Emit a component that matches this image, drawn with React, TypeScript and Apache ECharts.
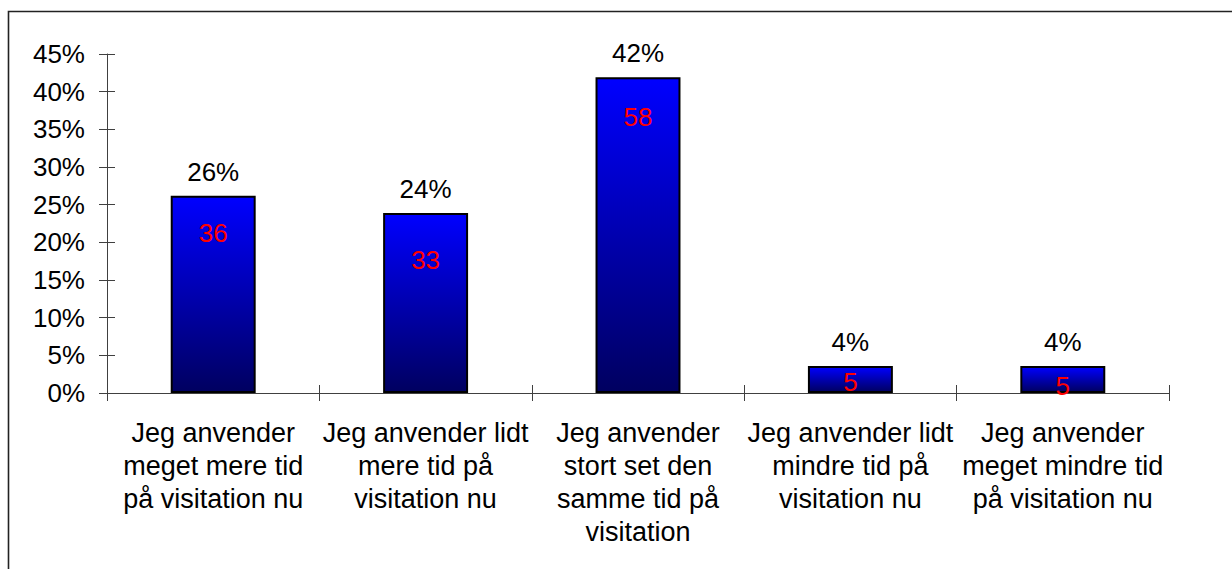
import React, { useEffect, useRef } from "react";
import * as echarts from "echarts";

const categories = [
  "Jeg anvender\nmeget mere tid\npå visitation nu",
  "Jeg anvender lidt\nmere tid på\nvisitation nu",
  "Jeg anvender\nstort set den\nsamme tid på\nvisitation",
  "Jeg anvender lidt\nmindre tid på\nvisitation nu",
  "Jeg anvender\nmeget mindre tid\npå visitation nu",
];
const percentShares = [26.2, 23.9, 41.9, 3.6, 3.6];
const respondentCounts = [36, 33, 58, 5, 5];
const yTicks = { min: 0, max: 45, interval: 5 };

const FONT = "'Liberation Sans', Arial, sans-serif";

export default function App() {
  const ref = useRef<HTMLDivElement>(null);
  useEffect(() => {
    if (!ref.current) return;
    const chart = echarts.init(ref.current, null, { renderer: "svg" });
    const axisColor = "#404040";
    const insideDistances = [24, 34, 27];
    const countLabels = respondentCounts.map((c, i) => {
      const small = percentShares[i] < 10;
      return {
        value: percentShares[i],
        label: small
          ? { position: "inside", offset: [0, i === 3 ? 3 : 7] }
          : { position: "insideTop", distance: insideDistances[i] },
      };
    });
    chart.setOption({
      animation: false,
      backgroundColor: "#ffffff",
      textStyle: { fontFamily: FONT },
      grid: { left: 107, right: 63, top: 54, bottom: 176 },
      graphic: [
        {
          type: "rect",
          shape: { x: 8.5, y: 11.5, width: 1300, height: 700 },
          style: { fill: "none", stroke: "#222", lineWidth: 1.6 },
          silent: true,
        },
      ],
      xAxis: [
        {
          type: "category",
          data: categories,
          axisLine: { lineStyle: { color: axisColor, width: 1 } },
          axisTick: { show: true, length: 8, lineStyle: { color: axisColor } },
          axisLabel: {
            interval: 0,
            color: "#000",
            fontSize: 27,
            fontFamily: FONT,
            lineHeight: 33,
            margin: 23,
            align: "center",
          },
        },
        {
          type: "category",
          data: categories,
          position: "bottom",
          axisLine: { show: false },
          axisTick: { show: true, inside: true, length: 8, lineStyle: { color: axisColor } },
          axisLabel: { show: false },
        },
      ],
      yAxis: [
        {
          type: "value",
          min: yTicks.min,
          max: yTicks.max,
          interval: yTicks.interval,
          axisLine: { show: true, lineStyle: { color: axisColor, width: 1 } },
          axisTick: { show: true, length: 8, lineStyle: { color: axisColor } },
          splitLine: { show: false },
          axisLabel: {
            color: "#000",
            fontSize: 26,
            fontFamily: FONT,
            margin: 22,
            formatter: (v: number) => v + "%",
          },
        },
        {
          type: "value",
          position: "left",
          min: yTicks.min,
          max: yTicks.max,
          interval: yTicks.interval,
          axisLine: { show: false },
          axisTick: { show: true, inside: true, length: 8, lineStyle: { color: axisColor } },
          splitLine: { show: false },
          axisLabel: { show: false },
        },
      ],
      series: [
        {
          type: "bar",
          data: percentShares,
          barWidth: "40%",
          itemStyle: {
            color: new echarts.graphic.LinearGradient(0, 0, 0, 1, [
              { offset: 0, color: "#0000ff" },
              { offset: 1, color: "#000060" },
            ]),
            borderColor: "#000",
            borderWidth: 2,
          },
          label: {
            show: true,
            position: "top",
            distance: 11,
            color: "#000",
            fontSize: 26,
            fontFamily: FONT,
            formatter: (p: any) => Math.round(p.value) + "%",
          },
        },
        {
          type: "bar",
          data: countLabels,
          barWidth: "40%",
          barGap: "-100%",
          z: 5,
          itemStyle: { color: "rgba(0,0,0,0)", borderWidth: 0 },
          label: {
            show: true,
            color: "#ff0000",
            fontSize: 26,
            fontFamily: FONT,
            formatter: (p: any) => String(respondentCounts[p.dataIndex]),
          },
        },
      ],
    });
    return () => chart.dispose();
  }, []);
  return (
    <div
      ref={ref}
      style={{ position: "fixed", left: 0, top: 0, width: 1232, height: 569, background: "#fff" }}
    />
  );
}
